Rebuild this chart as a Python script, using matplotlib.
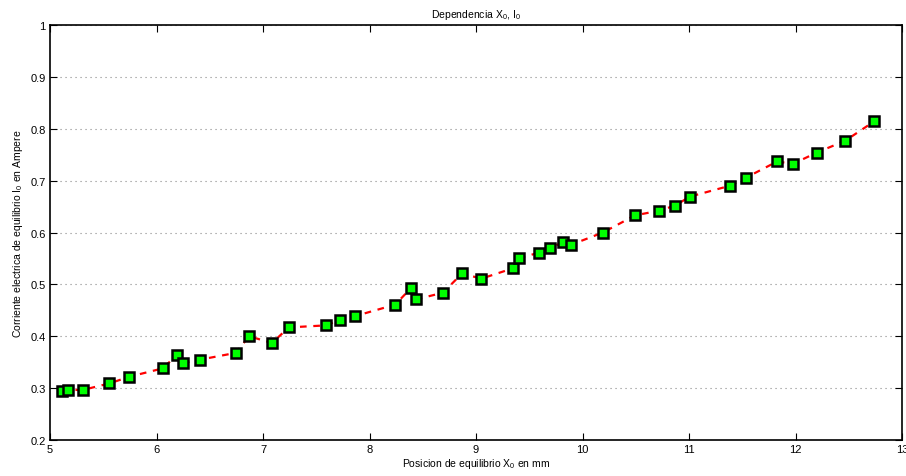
import matplotlib
matplotlib.use('Agg')
import matplotlib.pyplot as plt

plt.rcParams['font.family'] = ['Liberation Sans', 'DejaVu Sans']
plt.rcParams['mathtext.fontset'] = 'custom'
plt.rcParams['mathtext.rm'] = 'Liberation Sans'
plt.rcParams['mathtext.default'] = 'rm'

# Equilibrium position (mm) and equilibrium current (A)
x0_mm = [5.115, 5.172, 5.307, 5.557, 5.745, 6.058, 6.192, 6.246, 6.411, 6.746,
         6.869, 7.085, 7.241, 7.594, 7.726, 7.867, 8.242, 8.390, 8.439, 8.690,
         8.869, 9.050, 9.347, 9.407, 9.592, 9.698, 9.820, 9.889, 10.192, 10.493,
         10.718, 10.871, 11.006, 11.382, 11.538, 11.829, 11.974, 12.199, 12.468, 12.737]
i0_amp = [0.294, 0.2965, 0.2965, 0.309, 0.322, 0.338, 0.364, 0.348, 0.355, 0.368,
          0.400, 0.387, 0.417, 0.421, 0.432, 0.439, 0.461, 0.493, 0.471, 0.484,
          0.521, 0.511, 0.531, 0.551, 0.561, 0.571, 0.581, 0.576, 0.600, 0.633,
          0.642, 0.652, 0.669, 0.690, 0.706, 0.737, 0.732, 0.754, 0.777, 0.814]

x_ticks = [5, 6, 7, 8, 9, 10, 11, 12, 13]
y_ticks = [0.2, 0.3, 0.4, 0.5, 0.6, 0.7, 0.8, 0.9, 1]
y_labels = ['0.2', '0.3', '0.4', '0.5', '0.6', '0.7', '0.8', '0.9', '1']

fig = plt.figure(figsize=(9.06, 4.77), dpi=100)
ax = fig.add_axes([50 / 906, 36 / 477, 852 / 906, 415 / 477])

ax.plot(x0_mm, i0_amp, color='red', linestyle='--', linewidth=1.6, dashes=(3, 3),
        marker='s', markersize=7.5, markerfacecolor='#00ff00',
        markeredgecolor='black', markeredgewidth=1.8)

ax.set_xlim(5, 13)
ax.set_ylim(0.2, 1)
ax.set_xticks(x_ticks)
ax.set_xticklabels([str(t) for t in x_ticks])
ax.set_yticks(y_ticks)
ax.set_yticklabels(y_labels)

ax.yaxis.grid(True, linestyle=(0, (1, 3.5)), color='#888888', linewidth=0.8)
ax.tick_params(direction='in', length=5, width=0.8, top=True, right=True,
               labelsize=8, pad=3)
for s in ax.spines.values():
    s.set_linewidth(1.2)

ax.set_title('Dependencia X$_0$, I$_0$', fontsize=7.5, pad=6)
ax.set_xlabel('Posicion de equilibrio X$_0$ en mm', fontsize=7.5, labelpad=1)
ax.set_ylabel('Corriente electrica de equilibrio I$_0$ en Ampere', fontsize=7.5, labelpad=4)

plt.savefig('out.png', dpi=100)
